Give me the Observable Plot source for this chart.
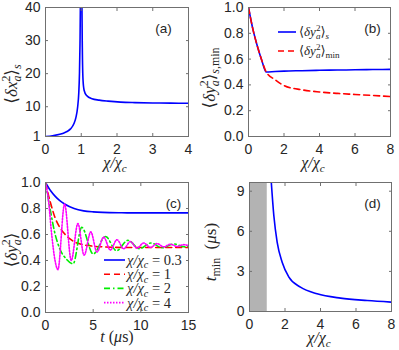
<!DOCTYPE html>
<html><head><meta charset="utf-8">
<script src="https://cdn.jsdelivr.net/npm/d3@7"></script>
<script src="https://cdn.jsdelivr.net/npm/@observablehq/plot@0.6"></script>
<style>
body{margin:0;background:#fff}
#fig{position:relative;width:399px;height:350px;overflow:hidden;background:#fff}
#fig svg{position:absolute}
</style></head><body><div id="fig"></div>
<script>
// ---------- data ----------
// (a) <dx_a^2>_s vs chi/chi_c
const aChi = [0, 0.2, 0.4, 0.5, 0.6, 0.7, 0.8, 0.85, 0.9, 0.93, 0.95, 0.965, 0.975, 0.99, 1.0, 1.01, 1.02, 1.03, 1.05, 1.08, 1.15, 1.3, 1.5, 1.75, 2.1, 2.5, 3, 3.5, 4];
const aVal = [1, 1.25, 1.65, 2.0, 2.5, 3.3, 5.0, 6.7, 10, 14, 20, 29, 40, 90, 200, 90, 40, 28, 18, 15, 13.4, 12.4, 12.0, 11.7, 11.4, 11.25, 11.15, 11.08, 11.05];
const aXTicks = [0, 1, 2, 3, 4];
const aYTicks = [1, 10, 20, 30, 40];

// (b) <dy_a^2>_s and <dy_a^2>_min vs chi/chi_c
const bChi = [0, 0.25, 0.5, 0.75, 1, 1.5, 2, 3, 4, 5, 6, 7, 8];
const bS   = [1, 0.83, 0.70, 0.59, 0.5, 0.504, 0.507, 0.51, 0.513, 0.515, 0.517, 0.519, 0.52];
const bMin = [1, 0.83, 0.70, 0.59, 0.5, 0.44, 0.395, 0.362, 0.345, 0.334, 0.326, 0.318, 0.31];
const bXTicks = [0, 2, 4, 6, 8];
const bYTicks = [0, 0.2, 0.4, 0.6, 0.8, 1];

// (c) <dy_a^2> vs t (us)
const c03T = [0, 0.5, 1, 1.5, 2, 3, 4, 5, 6, 8, 10, 15];
const c03  = [1, 0.94, 0.895, 0.86, 0.835, 0.8, 0.782, 0.774, 0.77, 0.767, 0.766, 0.766];
const c1T = [0, 0.25, 0.5, 1, 1.5, 2, 2.5, 3, 3.5, 4, 5, 6, 8, 10, 15];
const c1  = [1, 0.92, 0.85, 0.73, 0.655, 0.605, 0.57, 0.545, 0.53, 0.52, 0.51, 0.505, 0.5, 0.5, 0.5];
const c2T = [0, 0.3, 0.6, 0.95, 1.5, 2.2, 2.9, 3.8, 5.0, 6.3, 7.45, 8.65, 9.85, 11.05, 12.25, 13.45, 14.65, 15];
const c2  = [1, 0.87, 0.75, 0.62, 0.49, 0.41, 0.375, 0.655, 0.45, 0.585, 0.475, 0.555, 0.49, 0.535, 0.498, 0.527, 0.505, 0.51];
const c4T = [0, 0.3, 0.65, 1.0, 1.3, 2.0, 2.7, 3.4, 4.05, 4.75, 5.4, 6.1, 6.8, 7.5, 8.2, 8.9, 9.6, 10.3, 11.0, 11.7, 12.4, 13.1, 13.8, 14.5, 15];
const c4  = [1, 0.87, 0.6, 0.4, 0.33, 0.835, 0.40, 0.685, 0.44, 0.62, 0.465, 0.58, 0.48, 0.56, 0.49, 0.545, 0.495, 0.535, 0.5, 0.53, 0.505, 0.525, 0.508, 0.522, 0.515];
const cLegend = ["0.3", "1", "2", "4"];
const cXTicks = [0, 5, 10, 15];
const cYTicks = [0, 0.2, 0.4, 0.6, 0.8, 1];

// (d) t_min (us) vs chi/chi_c
const dChi = [1.2, 1.37, 1.56, 1.84, 2.22, 2.87, 3.81, 5.13, 6.63, 8];
const dT   = [10.2, 7.18, 5.18, 3.69, 2.57, 1.82, 1.32, 1.0, 0.82, 0.70];
const dShade = [[0, 1]];
const dXTicks = [0, 2, 4, 6, 8];
const dYTicks = [0, 3, 6, 9];

// ---------- style ----------
const SERIF = "'Liberation Serif','DejaVu Serif',serif";
const SANS = "'Liberation Sans',Arial,sans-serif";
const INK = "#262626";
const FRAME = "#707070";
const LW = 1.6;

const zip = (xs, ys) => xs.map((x, i) => ({x, y: ys[i]}));

function panel({width, ml, mr, mt, mb, xDomain, yDomain, xTicks, yTicks, marks, tag, tagDx}) {
  return Plot.plot({
    width, height: 175, marginLeft: ml, marginRight: mr, marginTop: mt, marginBottom: mb,
    x: {domain: xDomain}, y: {domain: yDomain},
    style: {fontFamily: SANS, fontSize: "14px", color: INK, background: "none", overflow: "visible"},
    marks: [
      ...marks,
      Plot.frame({stroke: FRAME}),
      Plot.axisX(xTicks, {anchor: "bottom", tickSize: -3, tickPadding: 10.5, label: null, stroke: FRAME, fill: INK}),
      Plot.axisX(xTicks, {anchor: "top", tickSize: -3, label: null, stroke: FRAME, fill: "none"}),
      Plot.axisY(yTicks, {anchor: "left", tickSize: -3, tickPadding: 8, label: null, stroke: FRAME, fill: INK}),
      Plot.axisY(yTicks, {anchor: "right", tickSize: -3, label: null, stroke: FRAME, fill: "none"}),
      Plot.text([tag], {frameAnchor: "top-right", dx: -tagDx, dy: 16, textAnchor: "middle", fill: INK, fontSize: 13.5, fontFamily: SANS})
    ]
  });
}

function mtext(sel, x, y, parts, {size = 16, rotate = 0, anchor = "middle"} = {}) {
  const t = sel.append("text")
    .attr("transform", `translate(${x},${y})` + (rotate ? ` rotate(${rotate})` : ""))
    .attr("text-anchor", anchor).attr("font-family", SERIF).attr("font-size", size).attr("fill", INK);
  let cur = 0;
  for (const p of parts) {
    const [str, mode = "n", it = false, dx = 0] = p;
    const fs = mode === "n" ? size : size * 0.7;
    const target = mode === "sup" ? -0.42 * size : mode === "sub" ? 0.24 * size : 0;
    const ts = t.append("tspan").text(str).attr("font-size", fs).attr("font-style", it ? "italic" : "normal");
    if (target !== cur) ts.attr("dy", target - cur);
    if (dx) ts.attr("dx", dx);
    cur = target;
  }
  return t;
}
const back = s => -s * 0.7 * 0.5;
const chiLabel = [["χ/χ", "n", true], ["c", "sub", true]];

const fig = document.getElementById("fig");
function place(svg, left, top) {
  svg.style.left = left + "px"; svg.style.top = top + "px";
  fig.appendChild(svg);
  return d3.select(svg);
}

// ----- (a) -----
const pa = panel({
  width: 199, ml: 45, mr: 11, mt: 7, mb: 39, xDomain: [0, 4], yDomain: [1, 40],
  xTicks: aXTicks, yTicks: aYTicks, tag: "(a)", tagDx: 25,
  marks: [Plot.line(zip(aChi, aVal), {x: "x", y: "y", stroke: "#0000ff", strokeWidth: LW, curve: "monotone-x", clip: true})]
});
const sa = place(pa, 0, 0);
mtext(sa, 115, 168, chiLabel);
mtext(sa, 17, 84, [["⟨"], ["δx", "n", true], ["2", "sup"], ["a", "sub", true, back(17)], ["⟩"], ["s", "sub", true]], {rotate: -90, size: 17});

// ----- (b) -----
const pb = panel({
  width: 200, ml: 49, mr: 9, mt: 7, mb: 39, xDomain: [0, 8], yDomain: [0, 1],
  xTicks: bXTicks, yTicks: bYTicks, tag: "(b)", tagDx: 18,
  marks: [
    Plot.line(zip(bChi, bS), {x: "x", y: "y", stroke: "#0000ff", strokeWidth: LW, curve: "monotone-x", clip: true}),
    Plot.line(zip(bChi, bMin), {x: "x", y: "y", stroke: "#ff0000", strokeWidth: LW, strokeDasharray: "6,4", curve: "monotone-x", clip: true})
  ]
});
const sb = place(pb, 199, 0);
mtext(sb, 114, 168, chiLabel);
mtext(sb, 16, 78, [["⟨"], ["δy", "n", true], ["2", "sup"], ["a", "sub", true, back(17)], ["⟩"], ["s", "sub", true], [",min", "sub"]], {rotate: -90, size: 17});
// legend (b)
sb.append("line").attr("x1", 79).attr("x2", 97).attr("y1", 32).attr("y2", 32).attr("stroke", "#0000ff").attr("stroke-width", LW);
sb.append("line").attr("x1", 79).attr("x2", 97).attr("y1", 51).attr("y2", 51).attr("stroke", "#ff0000").attr("stroke-width", LW).attr("stroke-dasharray", "6,4");
mtext(sb, 100, 36, [["⟨"], ["δy", "n", true], ["2", "sup"], ["a", "sub", true, back(13)], ["⟩"], ["s", "sub", true]], {size: 13, anchor: "start"});
mtext(sb, 100, 55, [["⟨"], ["δy", "n", true], ["2", "sup"], ["a", "sub", true, back(13)], ["⟩"], ["min", "sub"]], {size: 13, anchor: "start"});

// ----- (c) -----
const cStyles = [
  {t: c03T, v: c03, stroke: "#0000ff", dash: null},
  {t: c1T, v: c1, stroke: "#ff0000", dash: "6,4"},
  {t: c2T, v: c2, stroke: "#00ee00", dash: "6,3,1.5,3"},
  {t: c4T, v: c4, stroke: "#ff00ff", dash: "1.5,1.5"}
];
const pc = panel({
  width: 199, ml: 45, mr: 11, mt: 7, mb: 38, xDomain: [0, 15], yDomain: [0, 1],
  xTicks: cXTicks, yTicks: cYTicks, tag: "(c)", tagDx: 15,
  marks: cStyles.map(s => Plot.line(zip(s.t, s.v), {x: "x", y: "y", stroke: s.stroke, strokeWidth: LW, strokeDasharray: s.dash, curve: "monotone-x", clip: true}))
});
const sc = place(pc, 0, 175);
mtext(sc, 117, 167, [["t", "n", true], [" ("], ["μ", "n", true], ["s"], [")"]]);
mtext(sc, 17, 75, [["⟨"], ["δy", "n", true], ["2", "sup"], ["a", "sub", true, back(17)], ["⟩"]], {rotate: -90, size: 17});
cStyles.forEach((s, i) => {
  const y = 85 + i * 14.2;
  sc.append("line").attr("x1", 104).attr("x2", 125).attr("y1", y).attr("y2", y).attr("stroke", s.stroke).attr("stroke-width", LW).attr("stroke-dasharray", s.dash);
  mtext(sc, 127, y + 5, [["χ/χ", "n", true], ["c", "sub", true], [" = " + cLegend[i]]], {size: 14.5, anchor: "start"});
});

// ----- (d) -----
const pd = panel({
  width: 200, ml: 50, mr: 8, mt: 7, mb: 39, xDomain: [0, 8], yDomain: [0, 9.65],
  xTicks: dXTicks, yTicks: dYTicks, tag: "(d)", tagDx: 19,
  marks: [
    Plot.rect(dShade, {x1: d => d[0], x2: d => d[1], fill: "#b3b3b3"}),
    Plot.line(zip(dChi, dT), {x: "x", y: "y", stroke: "#0000ff", strokeWidth: LW, curve: "monotone-x", clip: true})
  ]
});
const sd = place(pd, 199, 175);
mtext(sd, 120, 168, chiLabel);
mtext(sd, 17, 77, [["t", "n", true], ["min", "sub"], ["  ("], ["μ", "n", true], ["s"], [")"]], {rotate: -90, size: 17});
</script>
</body></html>
